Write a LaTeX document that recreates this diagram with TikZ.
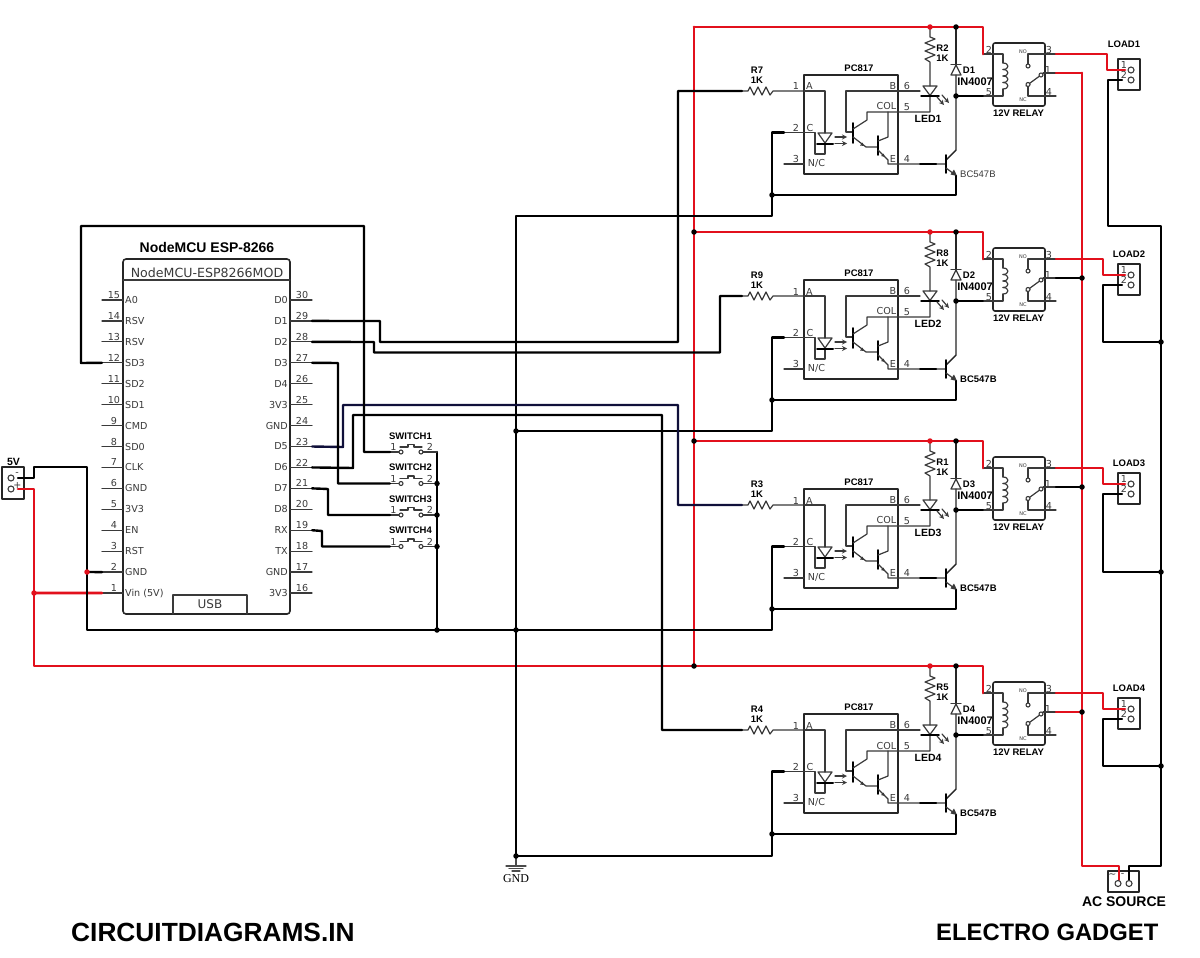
\documentclass[tikz,border=0pt]{standalone}
\usepackage{fontspec}
\setmainfont{DejaVu Sans}
\newfontfamily\labelfont{Liberation Sans}
\newfontfamily\gndfont{Liberation Serif}
\usetikzlibrary{arrows}
\definecolor{wirered}{HTML}{E2101C}
\definecolor{pingray}{HTML}{3A3A3A}
\definecolor{navywire}{HTML}{10103A}
\tikzset{
  wire/.style={line width=2.4pt,black},
  redwire/.style={line width=2.7pt,wirered},
  pinline/.style={line width=1.2pt,pingray},
  body/.style={line width=1.6pt,black!85},
  pintext/.style={inner sep=0pt,text=pingray,font=\fontsize{9.6}{11}\selectfont},
  smalltext/.style={inner sep=0pt,text=pingray,font=\fontsize{5}{6}\selectfont},
  boldtext/.style={inner sep=0pt,text=black,font=\labelfont\bfseries\fontsize{9.5}{11}\selectfont},
  bigtext/.style={inner sep=0pt,text=black,font=\labelfont\bfseries\fontsize{14}{16}\selectfont},
  bannertext/.style={inner sep=0pt,text=black,font=\labelfont\bfseries\fontsize{26.3}{30}\selectfont},
  junction/.style={circle,fill=black,inner sep=0pt,minimum size=5.5pt},
  redjunction/.style={circle,fill=wirered,inner sep=0pt,minimum size=5.5pt},
  hole/.style={line width=1.1pt,fill=white,draw=pingray},
}
\begin{document}
\begin{tikzpicture}[line cap=round,line join=round,>=triangle 45,x=1pt,y=-1pt]
\useasboundingbox (0,0) rectangle (1200,958);
\fill[white] (0,0) rectangle (1200,958);
%
% NodeMCU board
\draw[body,rounded corners=3] (123,259) rectangle (290,614);
\draw[pinline] (123,280) -- (290,280);
\draw[pinline] (173,614) -- (173,595) -- (247,595) -- (247,614);
\node[bigtext] (mcutitle) at (207,247) {NodeMCU ESP-8266};
\node[pintext,font=\fontsize{12.6}{15}\selectfont] (mcuname) at (207,273) {NodeMCU-ESP8266MOD};
\node[pintext,font=\fontsize{12}{14}\selectfont] (usb) at (210,604.5) {USB};
\foreach \i/\lab in {15/A0,14/RSV,13/RSV,12/SD3,11/SD2,10/SD1,9/CMD,8/SD0,7/CLK,6/GND,5/3V3,4/EN,3/RST,2/GND,1/Vin (5V)}{
  \pgfmathsetmacro\py{300+(15-\i)*20.93}
  \coordinate (m\i) at (102,\py);
  \draw[pinline] (m\i) -- (123,\py);
  \node[pintext,anchor=west] (ml\i) at (125,\py) {\lab};
  \node[pintext] (mn\i) at (114,\py-5) {\i};
}
\foreach \i/\lab in {30/D0,29/D1,28/D2,27/D3,26/D4,25/3V3,24/GND,23/D5,22/D6,21/D7,20/D8,19/RX,18/TX,17/GND,16/3V3}{
  \pgfmathsetmacro\py{300+(30-\i)*20.93}
  \coordinate (m\i) at (312,\py);
  \draw[pinline] (290,\py) -- (m\i);
  \node[pintext,anchor=east] (ml\i) at (288,\py) {\lab};
  \node[pintext] (mn\i) at (302,\py-5) {\i};
}
%
% switches
\foreach \n/\sy in {1/452,2/483.5,3/515,4/546.5}{
  \begin{scope}[shift={(0,\sy)}]
  \coordinate (swa\n) at (390,0);
  \coordinate (swb\n) at (423,0);
  \node[boldtext] (swl\n) at (410.5,-16) {SWITCH\n};
  \node[pintext] (swx\n) at (393.5,-5) {1};
  \node[pintext] (swy\n) at (430,-5) {2};
  \draw[pinline] (swa\n) -- (399,0);
  \draw[pinline] (400,-5) -- (408,-5) -- (408,-7.5) -- (414,-7.5) -- (414,-5) -- (422,-5);
  \draw[hole] (401,0) circle (2);
  \draw[hole] (421,0) circle (2);
  \end{scope}
}
%
% the four relay channels
\foreach \n/\dy/\ra/\rb/\lx/\pc in {1/0/R7/R2/1107/wirered,2/205/R9/R8/1103/black,3/414/R3/R1/1103/black,4/639/R4/R5/1103/wirered}{
\begin{scope}[shift={(0,\dy)}]
\coordinate (in\n) at (742,91);
\coordinate (cc\n) at (784,132.5);
\coordinate (te\n) at (956,195);
\coordinate (rt\n) at (930,27);
\coordinate (dt\n) at (956,27);
\coordinate (dm\n) at (956,96);
\coordinate (bn\n) at (694,27);
\coordinate (tc\n) at (1082,73);
\coordinate (lb\n) at (1122,80);
% input resistor
\draw[pinline] (in\n) -- (748,91) -- (750,87) -- (754,95) -- (758,87) -- (762,95) -- (766,87) -- (770,95) -- (773,91) -- (804,91);
\node[boldtext] (ra\n) at (757,70) {\ra};
\node[boldtext] (rv\n) at (757,80) {1K};
% optocoupler
\draw[body] (804,75) rectangle (898,174);
\node[boldtext] (pc\n) at (859,68.5) {PC817};
\draw[pinline] (784,132.5) -- (815,132.5) -- (815,154) -- (825,154) -- (825,143);
\draw[pinline] (784,164) -- (804,164);
\draw[pinline] (804,91) -- (825,91) -- (825,133);
\draw[pinline] (818,133) -- (832,133) -- (825,143) -- cycle;
\draw[line width=2pt] (817,143.5) -- (833,143.5);
\draw[pinline,->,>=stealth] (835,137) -- (847,137);
\draw[pinline,->,>=stealth] (835,143.5) -- (847,143.5);
\draw[pinline] (920,91) -- (846,91) -- (846,132) -- (853,132);
\draw[line width=1.8pt] (853,123) -- (853,143);
\draw[pinline] (853,129) -- (867,120) -- (867,112) -- (930,112) -- (930,96);
\draw[pinline] (853,137) -- (866,147) -- (878,147);
\draw[line width=1.8pt] (878,136) -- (878,155);
\draw[pinline] (878,141) -- (888,137) -- (888,112);
\draw[pinline] (878,150) -- (888,160) -- (888,164) -- (946,164);
\draw[line width=2pt] (920,164) -- (936,164);
\fill[pingray] (864,146) -- (860,145.5) -- (862.5,142.5) -- cycle;
\fill[pingray] (885,157) -- (881,156) -- (883.5,153.5) -- cycle;
\node[pintext] (pa\n) at (796,86.5) {1};
\node[pintext] (pb\n) at (796,127.5) {2};
\node[pintext] (pd\n) at (796,159) {3};
\node[pintext] (pe\n) at (809.5,86.5) {A};
\node[pintext] (pf\n) at (810,128) {C};
\node[pintext] (pg\n) at (816.5,163) {N/C};
\node[pintext] (ph\n) at (893,86) {B};
\node[pintext] (pi\n) at (886.5,106.5) {COL};
\node[pintext] (pj\n) at (893,159) {E};
\node[pintext] (pk\n) at (907,86) {6};
\node[pintext] (pl\n) at (907,107) {5};
\node[pintext] (pm\n) at (907,159) {4};
% led and its resistor
\draw[pinline] (rt\n) -- (930,37) -- (935,39) -- (925,43) -- (935,47) -- (925,51) -- (935,55) -- (925,59) -- (930,62) -- (930,86);
\draw[pinline] (923,86) -- (937,86) -- (930,95.5) -- cycle;
\draw[line width=1.5pt] (921,96) -- (939,96);
\draw[pinline,->,>=stealth] (937,97) -- (944,105);
\draw[pinline,->,>=stealth] (942,95) -- (949,103);
\node[boldtext] (rb\n) at (942.5,48) {\rb};
\node[boldtext] (rc\n) at (942.5,58) {1K};
\node[boldtext,font=\labelfont\bfseries\fontsize{10.5}{12}\selectfont] (led\n) at (928,119) {LED\n};
% flyback diode and driver transistor
\draw[line width=1.4pt,black!85] (dt\n) -- (956,65);
\draw[line width=1.4pt,black!85] (956,75) -- (956,150) -- (946,160);
\draw[pinline] (951,75) -- (961,75) -- (956,65) -- cycle;
\draw[pinline] (951,64.5) -- (961,64.5);
\node[boldtext] (dd\n) at (969,70) {D\n};
\node[boldtext,font=\labelfont\bfseries\fontsize{11}{12}\selectfont] (dn\n) at (975,82) {IN4007};
\draw[line width=1.8pt] (946,155) -- (946,173);
\draw[pinline] (946,168) -- (954,174);
\fill[pingray] (957,176) -- (950.5,174.5) -- (954,169.5) -- cycle;
\draw[wire] (956,176) -- (te\n) -- (772,195);
\node[pintext,anchor=west,font=\labelfont\fontsize{9.5}{11}\selectfont] (bc\n) at (960,174) {\ifnum\n>1 \bfseries\color{black}\fi BC547B};
% relay
\draw[body,rounded corners=2] (993,43) rectangle (1045,106);
\draw[pinline] (983,54) -- (1003,54) -- (1003,63);
\foreach \cy in {63,69.5,76,82.5}{
  \draw[pinline] (1003,\cy) .. controls (1009.5,\cy) and (1009.5,\cy+6.5) .. (1003,\cy+6.5);
}
\draw[pinline] (1003,89) -- (1003,96) -- (960,96);
\draw[line width=1.6pt] (dm\n) -- (983,96);
\draw[pinline] (1056,54) -- (1028,54) -- (1028,64);
\draw[pinline] (1056,73) -- (1043,73);
\draw[pinline] (1041,75) -- (1026,86);
\draw[pinline] (1028,86) -- (1028,96) -- (1056,96);
\draw[hole] (1028,66) circle (2);
\draw[hole] (1041,75) circle (2);
\draw[hole] (1028,84.5) circle (2);
\node[smalltext] (no\n) at (1023,51.5) {NO};
\node[smalltext] (nc\n) at (1023,99.5) {NC};
\node[pintext] (ry\n) at (989,50) {2};
\node[pintext] (rz\n) at (989,92) {5};
\node[pintext] (rw\n) at (1049,50) {3};
\node[pintext] (rx\n) at (1048,70) {1};
\node[pintext] (rq\n) at (1049,92) {4};
\node[boldtext] (rl\n) at (1018.5,113.5) {12V RELAY};
% load connector
\draw[body,line width=1.8pt] (1118,59) rectangle (1140,90);
\draw[hole] (1131,70) circle (3);
\draw[hole] (1131,80) circle (3);
\node[pintext] (la\n) at (1124,65) {1};
\node[pintext] (lc\n) at (1124,75) {2};
\ifnum\n=1
  \node[boldtext] (ll\n) at (1124,44) {LOAD\n};
\else
  \node[boldtext] (ll\n) at (1129,49.5) {LOAD\n};
\fi
% relay wiring
\draw[redwire] (bn\n) -- (983,27) -- (983,54);
\draw[redwire] (1056,54) -- (\lx,54) -- (\lx,70) -- (1125,70);
\draw[line width=2.2pt,\pc] (1056,73) -- (tc\n);
\end{scope}
}
%
% 5V connector
\draw[body,line width=1.8pt] (2,467) rectangle (24,499);
\coordinate (pwm) at (18,478);
\coordinate (pwp) at (18,489);
\node[pintext] (pwminus) at (17,474) {-};
\node[pintext] (pwplus) at (17.5,485) {+};
\node[boldtext,font=\labelfont\bfseries\fontsize{10.5}{12}\selectfont] (pwlabel) at (13.5,461.5) {5V};
%
% AC connector
\draw[body,line width=1.8pt] (1108,871) rectangle (1139,892);
\coordinate (acl) at (1119,880);
\coordinate (acn) at (1129,880);
\node[pintext] (actilde) at (1112.5,876) {\textasciitilde};
\node[pintext] (acdash) at (1122.5,875) {-};
\node[boldtext,font=\labelfont\bfseries\fontsize{14}{16}\selectfont] (aclabel) at (1124,902) {AC SOURCE};
%
% ground symbol
\coordinate (gndtop) at (516,856);
\draw[line width=1.1pt,black!70] (gndtop) -- (516,866);
\draw[line width=1.1pt,black!70] (506,866) -- (526,866);
\draw[line width=1.1pt,black!70] (509,868.5) -- (523,868.5);
\draw[line width=1.1pt,black!70] (512,871) -- (520,871);
\node[inner sep=0pt,font=\gndfont\fontsize{12}{13}\selectfont,text=black] (gndlabel) at (516,878.5) {GND};
%
% supply rails
\draw[redwire] (bn1) -- (694,666);
\draw[redwire] (pwp) -- (34,489) -- (34,666) -- (694,666);
\draw[redwire] (34,593) -- (m1);
\draw[redwire] (tc1) -- (1082,866) -- (1119,866) -- (acl);
\draw[wire] (acn) -- (1129,866) -- (1161,866) -- (1161,226) -- (1108,226) -- (1108,80) -- (lb1);
\draw[wire] (lb2) -- (1103,285) -- (1103,342) -- (1161,342);
\draw[wire] (lb3) -- (1103,494) -- (1103,572) -- (1161,572);
\draw[wire] (lb4) -- (1103,719) -- (1103,766) -- (1161,766);
%
% ground wiring
\draw[wire] (cc1) -- (772,132.5) -- (772,216) -- (516,216) -- (gndtop);
\draw[wire] (cc2) -- (772,337.5) -- (772,431) -- (516,431);
\draw[wire] (cc3) -- (772,546.5) -- (772,630) -- (87,630) -- (87,467) -- (34,467) -- (34,478) -- (pwm);
\draw[wire] (cc4) -- (772,771.5) -- (772,856) -- (gndtop);
\draw[wire] (87,572) -- (m2);
\draw[wire] (437,452) -- (437,630);
%
% board to channels and switches
\draw[wire] (m29) -- (380,321) -- (380,342) -- (678,342) -- (678,91) -- (in1);
\draw[wire] (m28) -- (374,342) -- (374,352.5) -- (720,352.5) -- (720,296) -- (in2);
\draw[wire,navywire] (m23) -- (343,447) -- (343,405) -- (678,405) -- (678,505) -- (in3);
\draw[wire] (m22) -- (353,468) -- (353,415) -- (662,415) -- (662,730) -- (in4);
\draw[wire] (m12) -- (81,363) -- (81,226) -- (364,226) -- (364,452) -- (swa1);
\draw[wire] (m27) -- (338,363) -- (338,483.5) -- (swa2);
\draw[wire] (m21) -- (328,489) -- (328,515) -- (swa3);
\draw[wire] (m19) -- (322,531) -- (322,546.5) -- (swa4);
\foreach \n in {1,2,3,4}{
  \draw[pinline] (swb\n) -- (437,0 |- swb\n);
}
% connector holes go over the wire ends
\foreach \hx/\hy in {11/478,11/489,1118/883.5,1129/883.5}{
  \draw[hole] (\hx,\hy) circle (3);
}
%
% junctions
\foreach \n in {1,2,3,4}{
  \node[redjunction] (jr\n) at (rt\n) {};
  \node[junction] (jt\n) at (dt\n) {};
  \node[junction] (jm\n) at (dm\n) {};
  \node[junction] (jb\n) at (772,195 |- te\n) {};
}
\foreach \n in {2,3,4}{
  \node[junction] (jc\n) at (tc\n) {};
}
\foreach \jn/\jx/\jy in {a/694/232,b/694/441,c/694/666}{
  \node[junction] (rail\jn) at (\jx,\jy) {};
}
\foreach \jn/\jx/\jy in {a/437/483.5,b/437/515,c/437/546.5,d/437/630,e/516/431,f/516/630,g/516/856,h/1161/342,i/1161/572,j/1161/766}{
  \node[junction] (gj\jn) at (\jx,\jy) {};
}
\node[redjunction] (vinj) at (34,593) {};
\node[redjunction] (gndj) at (87,572) {};
%
\node[bannertext,anchor=west] (bannera) at (71,932) {CIRCUITDIAGRAMS.IN};
\node[bannertext,anchor=west,font=\labelfont\bfseries\fontsize{23.8}{28}\selectfont] (bannerb) at (936,932) {ELECTRO GADGET};
\end{tikzpicture}
\end{document}
